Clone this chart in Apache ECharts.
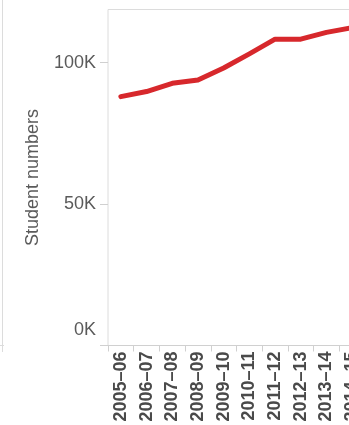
<!DOCTYPE html>
<html>
<head>
<meta charset="utf-8">
<script src="https://cdn.jsdelivr.net/npm/echarts@6/dist/echarts.min.js"></script>
<style>
  html, body { margin: 0; padding: 0; background: #fff; }
  #chart { width: 349px; height: 425px; }
</style>
</head>
<body>
<div id="chart"></div>
<script>
// Academic years on the category axis
const years = ['2005–06', '2006–07', '2007–08', '2008–09', '2009–10',
               '2010–11', '2011–12', '2012–13', '2013–14', '2014–15'];
// Student numbers per academic year
const students = [88000, 89800, 92700, 93900, 98100,
                  103100, 108300, 108300, 110700, 112400];
// Value axis ticks
const yTicks = [0, 50000, 100000];
const yMax = 118800;

const FONT = '"Liberation Sans", Arial, sans-serif';
const chart = echarts.init(document.getElementById('chart'), null, { renderer: 'canvas' });

chart.setOption({
  animation: false,
  backgroundColor: '#fff',
  grid: {
    left: 108, top: 9.5, bottom: 79.5, width: 257,
    outerBoundsMode: 'none',
    containLabel: false,
    show: true, borderColor: '#dcdcdc', borderWidth: 1, backgroundColor: 'transparent'
  },
  xAxis: {
    type: 'category',
    data: years,
    boundaryGap: true,
    axisLine: { show: true, lineStyle: { color: '#d0d0d0', width: 1 } },
    axisTick: { show: true, length: 6, lineStyle: { color: '#d0d0d0' } },
    axisLabel: {
      rotate: 90, margin: 6, interval: 0,
      fontFamily: FONT, fontSize: 18, fontWeight: 'bold', color: '#4a4a4a'
    },
    splitLine: { show: false }
  },
  yAxis: {
    type: 'value',
    min: 0, max: yMax, interval: yTicks[1] - yTicks[0],
    name: 'Student numbers',
    nameLocation: 'middle',
    nameGap: 66,
    nameTextStyle: { fontFamily: FONT, fontSize: 18, color: '#5a5a5a' },
    axisLine: { show: false },
    axisTick: { show: true, length: 8, lineStyle: { color: '#d0d0d0' } },
    axisLabel: {
      margin: 12, fontFamily: FONT, fontSize: 18, color: '#5a5a5a',
      showMaxLabel: false,
      formatter: function (v) {
        if (yTicks.indexOf(v) < 0) return '';
        const t = (v / 1000) + 'K';
        return v === 0 ? '{low|' + t + '}' : t;
      },
      rich: {
        low: { fontFamily: FONT, fontSize: 18, color: '#5a5a5a', padding: [0, 0, 30, 0] }
      }
    },
    splitLine: { show: false }
  },
  graphic: [
    {
      type: 'line', silent: true,
      shape: { x1: 2.5, y1: 0, x2: 2.5, y2: 352 },
      style: { stroke: '#dcdcdc', lineWidth: 1 }
    },
    {
      type: 'line', silent: true,
      shape: { x1: 0, y1: 345.5, x2: 4, y2: 345.5 },
      style: { stroke: '#dcdcdc', lineWidth: 1 }
    }
  ],
  series: [{
    type: 'line',
    data: students,
    showSymbol: false,
    symbol: 'none',
    lineStyle: { color: '#d7282c', width: 5, cap: 'round', join: 'round' },
    clip: false
  }]
});
</script>
</body>
</html>
